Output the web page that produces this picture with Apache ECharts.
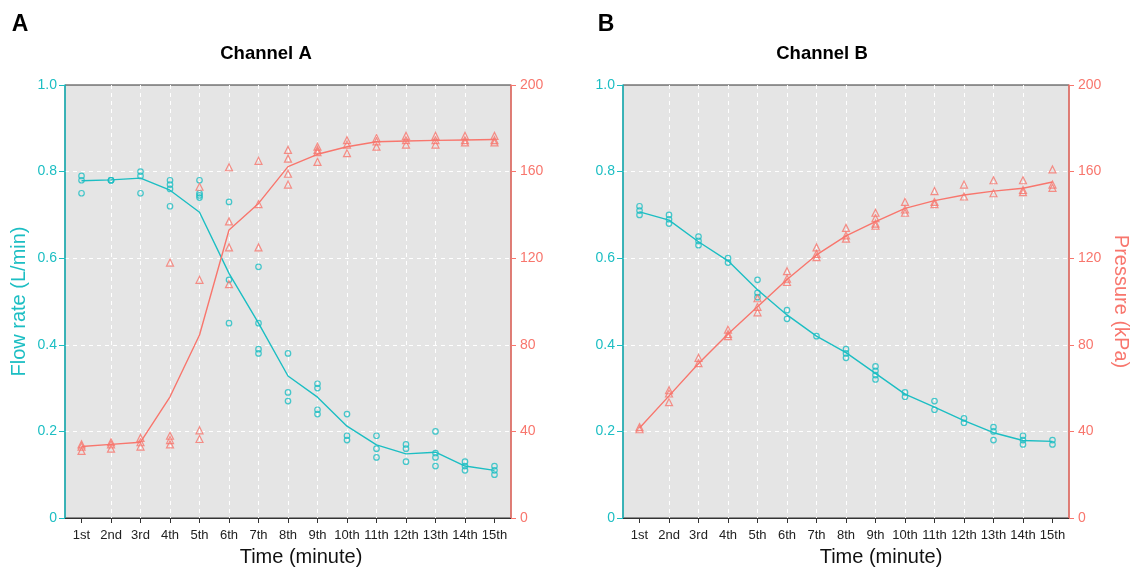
<!DOCTYPE html>
<html><head><meta charset="utf-8">
<script src="https://cdn.jsdelivr.net/npm/echarts@6/dist/echarts.min.js"></script>
<style>html,body{margin:0;padding:0;background:#fff}#c{width:1132px;height:574px}</style>
</head><body><div id="c"></div>
<script>
const timeLabels = ['1st','2nd','3rd','4th','5th','6th','7th','8th','9th','10th','11th','12th','13th','14th','15th'];
const flowTicks = [0, 0.2, 0.4, 0.6, 0.8, 1.0];
const pressTicks = [0, 40, 80, 120, 160, 200];

// Channel A replicates (per minute)
const flowA = [[0.79,0.78,0.75],[0.78,0.78,0.78],[0.80,0.79,0.75],[0.78,0.77,0.76,0.72],[0.78,0.75,0.745,0.74],
  [0.73,0.55,0.45],[0.58,0.45,0.39,0.38],[0.38,0.29,0.27],[0.31,0.30,0.25,0.24],[0.24,0.19,0.18],
  [0.19,0.16,0.14],[0.17,0.16,0.13],[0.20,0.15,0.14,0.12],[0.13,0.12,0.11],[0.12,0.11,0.10]];
const flowALine = [0.779,0.781,0.785,0.757,0.706,0.565,0.45,0.328,0.279,0.212,0.169,0.148,0.152,0.12,0.11];
const pressA = [[34,33,31],[35,34,32],[37,35,33],[118,38,36,34],[153,110,40.5,36.5],
  [162,137,125,108],[165,145,125],[170,166,159,154],[171.5,170,169,164.5],[174.5,172.5,168.5],
  [175.5,174,171.5],[176.5,174.5,172.5],[176.5,174.5,172.5],[176.5,174.5,173.5],[176.5,174.5,173.5]];
const pressALine = [33,34,35,56,84.5,133,145.3,162.3,168,171.5,173.8,174.1,174.4,174.6,174.8];

// Channel B replicates (per minute)
const flowB = [[0.72,0.71,0.70],[0.70,0.69,0.68],[0.65,0.64,0.63],[0.60,0.59],[0.55,0.52,0.51],
  [0.48,0.46],[0.42],[0.39,0.38,0.37],[0.35,0.34,0.33,0.32],[0.29,0.28],
  [0.27,0.25],[0.23,0.22],[0.21,0.20,0.18],[0.19,0.18,0.17],[0.18,0.17]];
const flowBLine = [0.707,0.688,0.638,0.594,0.527,0.469,0.42,0.382,0.334,0.286,0.256,0.225,0.197,0.179,0.177];
const pressB = [[42,41],[59,57.5,53.5],[74,71.5],[87,85,84],[101.5,97.5,95],
  [114,110.5,109],[125,122,120.5],[134,130.5,129],[141,138.5,136,135],[146,142.5,141],
  [151,146,145],[154,148.5],[156,150],[156,151.5,150.5],[161,154,152.5]];
const pressBLine = [41.6,56.4,71.4,85,97.6,110.2,121.5,130.3,136.9,143,146.6,149.2,151,152.3,155.2];

const CYAN = '#1CBEC3', SALMON = '#F8766D';
const FONT = '"Liberation Sans", Arial, sans-serif';
const xTicks = timeLabels.map((_, i) => i + 1);

function pts(reps){ const out=[]; reps.forEach((r,i)=>r.forEach(v=>out.push([i+1,v]))); return out; }
function linePts(arr){ return arr.map((v,i)=>[i+1,v]); }

function xAxis(gi, shift){
  return {
    gridIndex: gi, type: 'value', min: 0.44, max: 15.56,
    name: 'Time (minute)', nameLocation: 'middle', nameGap: 29,
    nameTextStyle: {fontSize: 20, color: '#111', fontFamily: FONT, padding: [0,0,0,shift*2]},
    axisLine: {show: true, onZero: false, lineStyle: {color: '#333', width: 1}},
    axisTick: {show: true, length: 5, lineStyle: {color: '#333'}, customValues: xTicks},
    axisLabel: {customValues: xTicks, formatter: v => timeLabels[Math.round(v)-1], fontSize: 13, color: '#222', margin: 11, fontFamily: FONT},
    splitLine: {show: true, showMinLine: false, showMaxLine: false, lineStyle: {color: '#fff', type: [4,4], width: 1}}
  };
}
function yLeft(gi, withName){
  return {
    gridIndex: gi, type: 'value', min: flowTicks[0], max: flowTicks[flowTicks.length-1], interval: 0.2, position: 'left',
    name: withName ? 'Flow rate (L/min)' : '', nameLocation: 'middle', nameGap: 36,
    nameTextStyle: {fontSize: 20, color: CYAN, fontFamily: FONT},
    axisLine: {show: true, lineStyle: {color: CYAN, width: 1.5}},
    axisTick: {show: true, length: 6, lineStyle: {color: CYAN}},
    axisLabel: {color: CYAN, fontSize: 14, margin: 8, fontFamily: FONT, formatter: v => v === 0 ? '0' : v.toFixed(1)},
    splitLine: {show: true, showMinLine: false, showMaxLine: false, lineStyle: {color: '#fff', type: [4,4], width: 1}}
  };
}
function yRight(gi, withName){
  return {
    gridIndex: gi, type: 'value', min: pressTicks[0], max: pressTicks[pressTicks.length-1], interval: 40, position: 'right',
    name: withName ? 'Pressure (kPa)' : '', nameLocation: 'middle', nameGap: 42, nameRotate: -90,
    nameTextStyle: {fontSize: 20, color: SALMON, fontFamily: FONT},
    axisLine: {show: true, lineStyle: {color: SALMON, width: 1.5}},
    axisTick: {show: true, length: 5, lineStyle: {color: SALMON}},
    axisLabel: {color: SALMON, fontSize: 14, margin: 9, fontFamily: FONT},
    splitLine: {show: false}
  };
}
function series(xi, yiL, yiR, flow, flowLine, press, pressLine){
  return [
    {type: 'line', xAxisIndex: xi, yAxisIndex: yiL, data: linePts(flowLine), showSymbol: false, symbol: 'none',
     lineStyle: {color: CYAN, width: 1.4}, z: 3, silent: true},
    {type: 'line', xAxisIndex: xi, yAxisIndex: yiR, data: linePts(pressLine), showSymbol: false, symbol: 'none',
     lineStyle: {color: SALMON, width: 1.4}, z: 3, silent: true},
    {type: 'scatter', xAxisIndex: xi, yAxisIndex: yiL, data: pts(flow), symbol: 'circle', symbolSize: 5.5,
     itemStyle: {color: 'rgba(0,0,0,0)', borderColor: CYAN, borderWidth: 1.2}, z: 4},
    {type: 'scatter', xAxisIndex: xi, yAxisIndex: yiR, data: pts(press), symbol: 'triangle', symbolSize: 7,
     itemStyle: {color: 'rgba(0,0,0,0)', borderColor: SALMON, borderWidth: 1.2}, z: 4}
  ];
}
function txt(x, y, text, size, color){
  return {type: 'text', x: x, y: y, style: {text: text, font: 'bold ' + size + 'px ' + FONT, fill: color || '#000',
    align: 'center', textAlign: 'center', verticalAlign: 'middle', textVerticalAlign: 'middle'}};
}

const chart = echarts.init(document.getElementById('c'), null, {renderer: 'canvas'});
chart.setOption({
  animation: false,
  backgroundColor: '#fff',
  textStyle: {fontFamily: FONT},
  grid: [
    {left: 65, right: 621, top: 85, bottom: 56, show: true, backgroundColor: '#E5E5E5', borderColor: '#333', borderWidth: 1},
    {left: 623, right: 63, top: 85, bottom: 56, show: true, backgroundColor: '#E5E5E5', borderColor: '#333', borderWidth: 1}
  ],
  xAxis: [xAxis(0, 13), xAxis(1, 35)],
  yAxis: [yLeft(0, true), yRight(0, false), yLeft(1, false), yRight(1, true)],
  series: [].concat(series(0, 0, 1, flowA, flowALine, pressA, pressALine),
                    series(1, 2, 3, flowB, flowBLine, pressB, pressBLine)),
  graphic: [
    txt(20, 25, 'A', 23), txt(606, 25, 'B', 23),
    txt(266, 54, 'Channel A', 18.5), txt(822, 54, 'Channel B', 18.5)
  ]
});
</script></body></html>
